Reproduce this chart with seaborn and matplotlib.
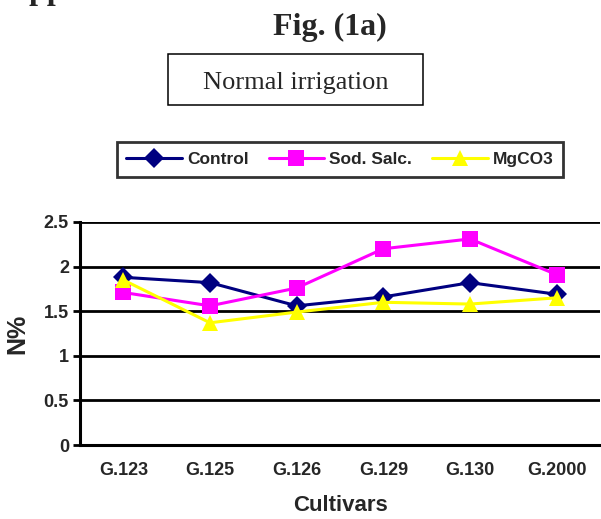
import matplotlib
matplotlib.use("Agg")
import matplotlib.pyplot as plt
import seaborn as sns
import pandas as pd
from matplotlib.patches import Rectangle

cultivars = ["G.123", "G.125", "G.126", "G.129", "G.130", "G.2000"]
control = [1.88, 1.82, 1.56, 1.66, 1.82, 1.69]
sod_salc = [1.71, 1.56, 1.76, 2.20, 2.31, 1.91]
mgco3 = [1.85, 1.37, 1.49, 1.60, 1.58, 1.65]
series_names = ["Control", "Sod. Salc.", "MgCO3"]
yticks = [0, 0.5, 1, 1.5, 2, 2.5]
ytick_labels = ["0", "0.5", "1", "1.5", "2", "2.5"]

sns.set_theme(style="white")
plt.rcParams['font.family'] = ['Liberation Sans', 'DejaVu Sans']

df = pd.DataFrame({
    "x": list(range(len(cultivars))) * 3,
    "N%": control + sod_salc + mgco3,
    "series": [n for n in series_names for _ in cultivars],
})

palette = {"Control": "#000080", "Sod. Salc.": "#FF00FF", "MgCO3": "#FFFF00"}
markers = {"Control": "D", "Sod. Salc.": "s", "MgCO3": "^"}
msizes = {"Control": 10, "Sod. Salc.": 11, "MgCO3": 11}

W, H = 601, 519
fig = plt.figure(figsize=(W / 100, H / 100), dpi=100)
ax = fig.add_axes([80 / W, 1 - 445 / H, 520 / W, 223 / H])

sns.lineplot(data=df, x="x", y="N%", hue="series", style="series",
             markers=markers, dashes=False, palette=palette,
             hue_order=series_names, style_order=series_names,
             linewidth=2.2, ax=ax, legend=False)

for line, name in zip(ax.lines, series_names):
    line.set_markersize(msizes[name])
    line.set_markeredgewidth(0)
    line.set_markerfacecolor(palette[name])

ax.set_xlim(-0.5, len(cultivars) - 0.5)
ax.set_ylim(0, 2.5)
ax.set_yticks(yticks)
ax.set_yticklabels(ytick_labels, fontsize=13, fontweight="bold")
ax.set_xticks(range(len(cultivars)))
ax.set_xticklabels(cultivars, fontsize=13, fontweight="bold")
ax.set_xticks([i - 0.5 for i in range(len(cultivars) + 1)], minor=True)
ax.tick_params(axis="x", which="major", length=0, pad=12)
ax.tick_params(axis="x", which="minor", length=6, width=2, direction="out", color="black")
ax.tick_params(axis="y", which="major", length=5, width=2, direction="out", color="black", pad=3, left=True)
ax.yaxis.grid(True, color="black", linewidth=2)
ax.set_axisbelow(True)
for s in ["top", "right"]:
    ax.spines[s].set_visible(False)
for s in ["left", "bottom"]:
    ax.spines[s].set_color("black")
    ax.spines[s].set_linewidth(2.2)

ax.set_xlabel("Cultivars", fontsize=16, fontweight="bold", labelpad=12)
ax.set_ylabel("N%", fontsize=18, fontweight="bold", labelpad=10)

leg = fig.legend(handles=ax.lines[:3], labels=series_names, ncol=3,
                 loc="center", bbox_to_anchor=(340 / W, 1 - 159.5 / H),
                 frameon=True, fancybox=False,
                 prop={"weight": "bold", "size": 12.5},
                 handlelength=3.2, columnspacing=1.15, handletextpad=0.3,
                 borderpad=0.55, borderaxespad=0, edgecolor="black")
leg.get_frame().set_linewidth(2)

fig.text(330 / W, 1 - 27 / H, "Fig. (1a)", family="Liberation Serif",
         fontweight="bold", fontsize=23, ha="center", va="center")
fig.patches.append(Rectangle((168 / W, 1 - 105 / H), 255 / W, 51 / H,
                             transform=fig.transFigure, fill=False,
                             edgecolor="black", linewidth=1.1))
fig.text(296 / W, 1 - 83 / H, "Normal irrigation", family="Liberation Serif",
         fontsize=19, ha="center", va="center")
fig.text(7 / W, 1 + 1.0 / H, "Application", family="Liberation Serif",
         fontweight="bold", fontsize=23, ha="left", va="baseline")

fig.savefig("out.png", dpi=100)
